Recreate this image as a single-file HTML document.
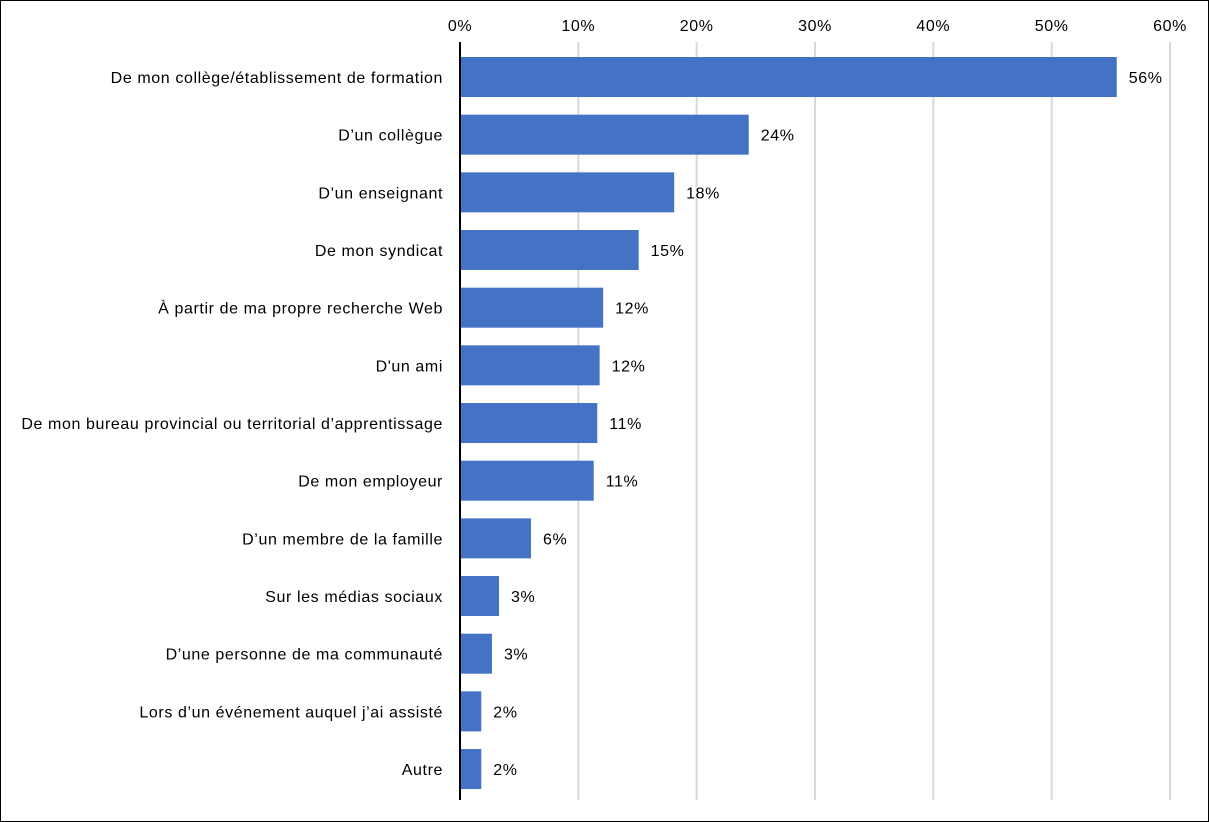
<!DOCTYPE html>
<html><head><meta charset="utf-8"><style>
body{margin:0;background:#fff}
svg{display:block;font-family:"Liberation Sans",Calibri,sans-serif}
text{letter-spacing:0.6px}
</style></head><body>
<svg id="chart" width="1209" height="822">
<rect x="0.5" y="0.5" width="1208" height="821" fill="#fff" stroke="#000"/>
<g id="grid"></g><g id="bars"></g><g id="labels"></g>
</svg>
<script>
const categories=["De mon collège/établissement de formation","D’un collègue","D’un enseignant","De mon syndicat","À partir de ma propre recherche Web","D'un ami","De mon bureau provincial ou territorial d’apprentissage","De mon employeur","D’un membre de la famille","Sur les médias sociaux","D’une personne de ma communauté","Lors d’un événement auquel j’ai assisté","Autre"];
const values=[55.5,24.4,18.1,15.1,12.1,11.8,11.6,11.3,6.0,3.3,2.7,1.8,1.8];
const valueLabels=["56%","24%","18%","15%","12%","12%","11%","11%","6%","3%","3%","2%","2%"];
const ticks=[0,10,20,30,40,50,60];
const tickLabels=["0%","10%","20%","30%","40%","50%","60%"];
const NS="http://www.w3.org/2000/svg";
const x=v=>460+v*(710/60);
const rowY=i=>77+i*57.67;
function mk(t,a,p){const e=document.createElementNS(NS,t);for(const k in a)e.setAttribute(k,a[k]);p.appendChild(e);return e;}
const g=document.getElementById('grid'),b=document.getElementById('bars'),l=document.getElementById('labels');
ticks.forEach((t,i)=>{
 if(t>0){const ln=mk('line',{x1:x(t),x2:x(t),y1:42,y2:800,stroke:'#d9d9d9','stroke-width':2},g);
 
 }
 const tx=mk('text',{x:x(t),y:31,'text-anchor':'middle','font-size':16,fill:'#000'},l);tx.textContent=tickLabels[i];
 
 
});
categories.forEach((c,i)=>{
 const cy=rowY(i);
 const r=mk('rect',{x:460,y:cy-20,width:x(values[i])-460,height:40,fill:'#4472c4'},b);
 
 
 const t=mk('text',{x:443,y:cy+6,'text-anchor':'end','font-size':16,fill:'#000'},l);t.textContent=c;
 
 
 const v=mk('text',{x:x(values[i])+12,y:cy+6,'font-size':16,fill:'#000'},l);v.textContent=valueLabels[i];
 
 
});
const ax=mk('line',{x1:460,x2:460,y1:42,y2:800,stroke:'#000','stroke-width':2},l);


</script>
</body></html>
